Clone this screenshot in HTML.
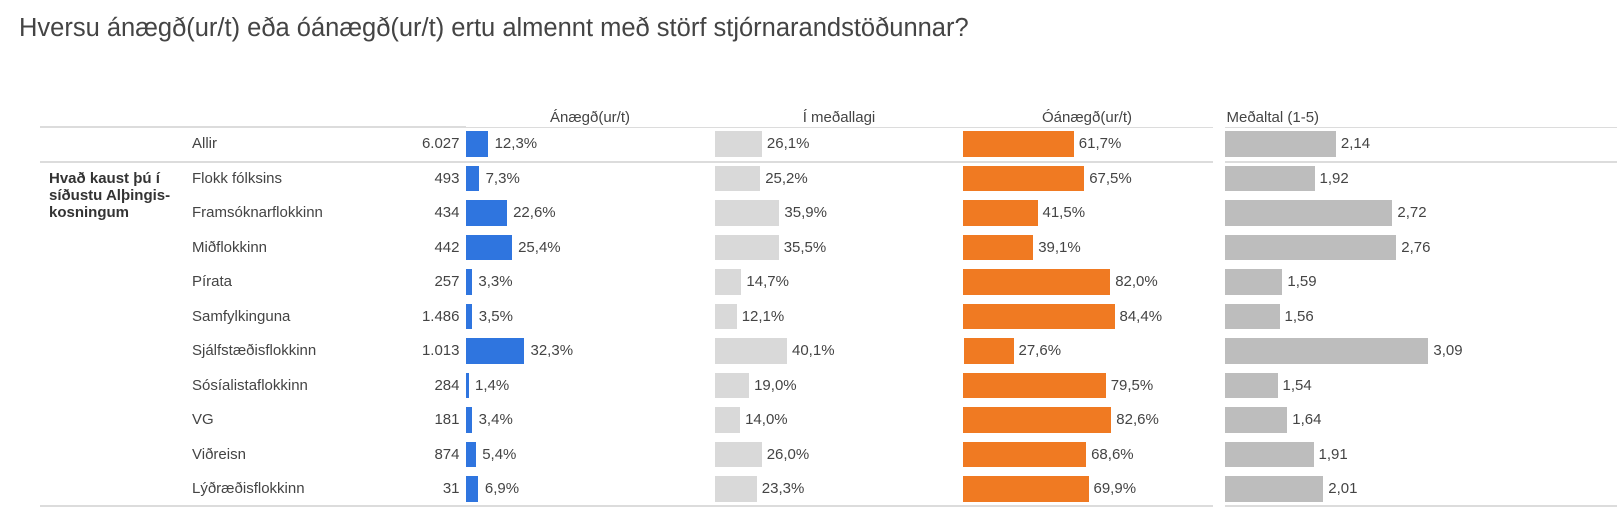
<!DOCTYPE html>
<html>
<head>
<meta charset="utf-8">
<style>
  html, body { margin:0; padding:0; background:#fff; }
  body { width:1617px; height:507px; position:relative; overflow:hidden;
         font-family:"Liberation Sans", Arial, sans-serif; color:#444; }
  .title { position:absolute; left:19px; top:12.7px; font-size:25.5px; line-height:30px; white-space:nowrap; color:#444; }
  .ln { position:absolute; background:#dcdcdc; }
  .hd { position:absolute; top:105.3px; height:25.7px; line-height:25.7px; font-size:15px; white-space:nowrap; }
  .hc { transform:translateX(-50%); }
  .r { position:absolute; left:0; width:1617px; height:25.7px; }
  .r div { position:absolute; top:0; height:25.7px; line-height:25.7px; font-size:15px; white-space:nowrap; }
  .lab { left:192px; }
  .n { right:1157.5px; text-align:right; }
  .bb { left:466px; background:#2f75df; }
  .bg { left:715px; background:#d9d9d9; }
  .bo { left:963px; background:#f07a22; }
  .ba { left:1225px; background:#bdbdbd; }
  .grp { position:absolute; left:49px; top:169.6px; font-size:15px; line-height:17px; font-weight:bold; color:#333; white-space:nowrap; }
</style>
</head>
<body>
<div class="title">Hversu ánægð(ur/t) eða óánægð(ur/t) ertu almennt með störf stjórnarandstöðunnar?</div>

<div class="hd hc" style="left:590px;">Ánægð(ur/t)</div>
<div class="hd hc" style="left:839px;">Í meðallagi</div>
<div class="hd hc" style="left:1087px;">Óánægð(ur/t)</div>
<div class="hd" style="left:1226.5px;">Meðaltal (1-5)</div>

<!-- lines -->
<div class="ln" style="left:40px; top:125.5px; width:426px; height:2px;"></div>
<div class="ln" style="left:466px; top:126.5px; width:747px; height:1.5px;"></div>
<div class="ln" style="left:1225px; top:126.5px; width:392px; height:1.5px;"></div>
<div class="ln" style="left:40px; top:161px; width:1173px; height:1.5px;"></div>
<div class="ln" style="left:1225px; top:161px; width:392px; height:1.5px;"></div>
<div class="ln" style="left:40px; top:504.5px; width:1173px; height:2px;"></div>
<div class="ln" style="left:1225px; top:504.5px; width:392px; height:2px;"></div>

<div class="grp">Hvað kaust þú í<br>síðustu Alþingis-<br>kosningum</div>

<div class="r" style="top:131px;">
  <div class="lab">Allir</div><div class="n">6.027</div>
  <div class="bb" style="width:22.1px;"></div><div style="left:494.6px;">12,3%</div>
  <div class="bg" style="width:46.9px;"></div><div style="left:766.9px;">26,1%</div>
  <div class="bo" style="width:110.8px;"></div><div style="left:1078.8px;">61,7%</div>
  <div class="ba" style="width:110.9px;"></div><div style="left:1340.9px;">2,14</div>
</div>
<div class="r" style="top:165.5px;">
  <div class="lab">Flokk fólksins</div><div class="n">493</div>
  <div class="bb" style="width:13.1px;"></div><div style="left:485.6px;">7,3%</div>
  <div class="bg" style="width:45.2px;"></div><div style="left:765.2px;">25,2%</div>
  <div class="bo" style="width:121.2px;"></div><div style="left:1089.2px;">67,5%</div>
  <div class="ba" style="width:89.5px;"></div><div style="left:1319.5px;">1,92</div>
</div>
<div class="r" style="top:200px;">
  <div class="lab">Framsóknarflokkinn</div><div class="n">434</div>
  <div class="bb" style="width:40.6px;"></div><div style="left:513.1px;">22,6%</div>
  <div class="bg" style="width:64.4px;"></div><div style="left:784.4px;">35,9%</div>
  <div class="bo" style="width:74.5px;"></div><div style="left:1042.5px;">41,5%</div>
  <div class="ba" style="width:167.4px;"></div><div style="left:1397.4px;">2,72</div>
</div>
<div class="r" style="top:234.5px;">
  <div class="lab">Miðflokkinn</div><div class="n">442</div>
  <div class="bb" style="width:45.6px;"></div><div style="left:518.1px;">25,4%</div>
  <div class="bg" style="width:63.7px;"></div><div style="left:783.7px;">35,5%</div>
  <div class="bo" style="width:70.2px;"></div><div style="left:1038.2px;">39,1%</div>
  <div class="ba" style="width:171.3px;"></div><div style="left:1401.3px;">2,76</div>
</div>
<div class="r" style="top:269px;">
  <div class="lab">Pírata</div><div class="n">257</div>
  <div class="bb" style="width:5.9px;"></div><div style="left:478.4px;">3,3%</div>
  <div class="bg" style="width:26.4px;"></div><div style="left:746.4px;">14,7%</div>
  <div class="bo" style="width:147.2px;"></div><div style="left:1115.2px;">82,0%</div>
  <div class="ba" style="width:57.4px;"></div><div style="left:1287.4px;">1,59</div>
</div>
<div class="r" style="top:303.5px;">
  <div class="lab">Samfylkinguna</div><div class="n">1.486</div>
  <div class="bb" style="width:6.3px;"></div><div style="left:478.8px;">3,5%</div>
  <div class="bg" style="width:21.7px;"></div><div style="left:741.7px;">12,1%</div>
  <div class="bo" style="width:151.5px;"></div><div style="left:1119.5px;">84,4%</div>
  <div class="ba" style="width:54.5px;"></div><div style="left:1284.5px;">1,56</div>
</div>
<div class="r" style="top:338px;">
  <div class="lab">Sjálfstæðisflokkinn</div><div class="n">1.013</div>
  <div class="bb" style="width:58px;"></div><div style="left:530.5px;">32,3%</div>
  <div class="bg" style="width:72px;"></div><div style="left:792px;">40,1%</div>
  <div class="bo" style="width:49.5px; left:964px;"></div><div style="left:1018.5px;">27,6%</div>
  <div class="ba" style="width:203.4px;"></div><div style="left:1433.4px;">3,09</div>
</div>
<div class="r" style="top:372.5px;">
  <div class="lab">Sósíalistaflokkinn</div><div class="n">284</div>
  <div class="bb" style="width:2.5px;"></div><div style="left:475px;">1,4%</div>
  <div class="bg" style="width:34.1px;"></div><div style="left:754.1px;">19,0%</div>
  <div class="bo" style="width:142.7px;"></div><div style="left:1110.7px;">79,5%</div>
  <div class="ba" style="width:52.5px;"></div><div style="left:1282.5px;">1,54</div>
</div>
<div class="r" style="top:407px;">
  <div class="lab">VG</div><div class="n">181</div>
  <div class="bb" style="width:6.1px;"></div><div style="left:478.6px;">3,4%</div>
  <div class="bg" style="width:25.1px;"></div><div style="left:745.1px;">14,0%</div>
  <div class="bo" style="width:148.3px;"></div><div style="left:1116.3px;">82,6%</div>
  <div class="ba" style="width:62.3px;"></div><div style="left:1292.3px;">1,64</div>
</div>
<div class="r" style="top:441.5px;">
  <div class="lab">Viðreisn</div><div class="n">874</div>
  <div class="bb" style="width:9.7px;"></div><div style="left:482.2px;">5,4%</div>
  <div class="bg" style="width:46.7px;"></div><div style="left:766.7px;">26,0%</div>
  <div class="bo" style="width:123.1px;"></div><div style="left:1091.1px;">68,6%</div>
  <div class="ba" style="width:88.5px;"></div><div style="left:1318.5px;">1,91</div>
</div>
<div class="r" style="top:476px;">
  <div class="lab">Lýðræðisflokkinn</div><div class="n">31</div>
  <div class="bb" style="width:12.4px;"></div><div style="left:484.9px;">6,9%</div>
  <div class="bg" style="width:41.8px;"></div><div style="left:761.8px;">23,3%</div>
  <div class="bo" style="width:125.5px;"></div><div style="left:1093.5px;">69,9%</div>
  <div class="ba" style="width:98.3px;"></div><div style="left:1328.3px;">2,01</div>
</div>
</body>
</html>
